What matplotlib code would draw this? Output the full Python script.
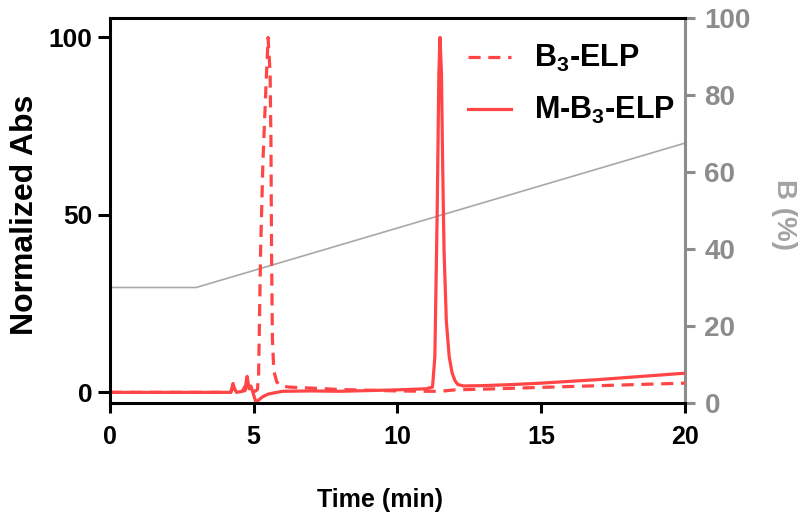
import matplotlib
matplotlib.use("Agg")
from matplotlib import pyplot as plt

plt.rcParams["font.family"] = ["Liberation Sans", "DejaVu Sans"]
plt.rcParams["font.weight"] = "bold"
plt.rcParams["mathtext.fontset"] = "custom"
plt.rcParams["mathtext.rm"] = "Liberation Sans:bold"
plt.rcParams["mathtext.it"] = "Liberation Sans:bold"
plt.rcParams["mathtext.bf"] = "Liberation Sans:bold"

RED = "#ff4545"
GRAY = "#8c8c8c"

# B3-ELP (dashed)
t_b3 = [0, 4.2, 4.3, 4.4, 4.7, 4.78, 4.9, 5.05, 5.13, 5.17, 5.2, 5.24, 5.32, 5.42, 5.5,
        5.57, 5.6, 5.62, 5.65, 5.7, 5.8, 5.9, 6.2, 7, 8, 9, 10, 11, 11.5, 12, 13, 15, 17.5, 20]
abs_b3 = [0, 0, 1.5, 0, 0.5, 2.5, 0.5, 0.3, 0.8, 5, 20, 40, 65, 85, 100,
          90, 70, 40, 15, 6, 3, 2, 1.5, 1.2, 0.8, 0.6, 0.4, 0.3, 0.3, 0.7, 0.9, 1.4, 2.0, 2.6]

# M-B3-ELP (solid)
t_mb3 = [0, 4.2, 4.28, 4.33, 4.4, 4.6, 4.72, 4.77, 4.84, 4.9, 5.08, 5.3, 5.5, 5.8, 6.0,
         7, 8, 9, 10, 11, 11.22, 11.3, 11.38, 11.44, 11.48, 11.53, 11.57, 11.62, 11.7,
         11.8, 11.9, 12.0, 12.1, 12.3, 13, 14, 15, 16, 17, 18, 19, 20]
abs_mb3 = [0, 0, 2.5, 1, 0, 0.3, 2, 4.5, 1, 1.8, -2.8, -1.3, -0.5, 0, 0.3,
           0.4, 0.3, 0.5, 0.7, 1.0, 1.5, 10, 50, 90, 100, 90, 65, 40, 20,
           10, 5.5, 3.3, 2.2, 1.8, 1.9, 2.2, 2.6, 3.1, 3.6, 4.2, 4.8, 5.4]

# gradient, % B
t_grad = [0, 3, 20]
b_grad = [30, 30, 67.5]

x_ticks = [0, 5, 10, 15, 20]
y_ticks = [0, 50, 100]
b_ticks = [0, 20, 40, 60, 80, 100]

fig = plt.figure(figsize=(8.05, 5.21), dpi=100)
ax = fig.add_axes([0.1366, 0.2265, 0.7143, 0.739])
ax2 = ax.twinx()

ax2.plot(t_grad, b_grad, color="#a8a8a8", lw=1.2)
ax2.set_ylim(0, 100)
ax2.set_yticks(b_ticks)

ax.plot(t_b3, abs_b3, color=RED, lw=2.3, ls=(0, (3.8, 2.4)), label="B$_3$-ELP")
ax.plot(t_mb3, abs_mb3, color=RED, lw=2.3, label="M-B$_3$-ELP")
ax.set_xlim(0, 20)
ax.set_ylim(-3, 105.5)
ax.set_xticks(x_ticks)
ax.set_yticks(y_ticks)

ax.set_zorder(ax2.get_zorder() + 1)
ax.patch.set_visible(False)

for s in ["left", "bottom", "top"]:
    ax.spines[s].set_linewidth(2.2)
    ax.spines[s].set_color("black")
ax.spines["right"].set_visible(False)
for s in ["left", "bottom", "top"]:
    ax2.spines[s].set_visible(False)
ax2.spines["right"].set_linewidth(2.2)
ax2.spines["right"].set_color(GRAY)

ax.tick_params(axis="y", length=8.5, width=2.2, pad=4, labelsize=19)
ax.tick_params(axis="x", length=7, width=2.2, pad=9, labelsize=18)
ax2.tick_params(axis="y", length=7, width=2.2, pad=7, labelsize=20,
                colors=GRAY)

ax.set_xlabel("Time (min)", fontsize=18, fontweight="bold", va="center")
ax.xaxis.set_label_coords(0.47, -0.252)
ax.set_ylabel("Normalized Abs", fontsize=23, fontweight="bold", va="center")
ax.yaxis.set_label_coords(-0.148, 0.49)
ax2.set_ylabel("B (%)", fontsize=20, fontweight="bold", color="#a3a3a3",
               rotation=270, va="center")
ax2.yaxis.set_label_coords(1.172, 0.49)

ax.legend(loc="upper left", bbox_to_anchor=(0.623, 0.934), frameon=False,
          fontsize=22, handlelength=1.4, handletextpad=0.75, labelspacing=0.68,
          borderpad=0, borderaxespad=0)

fig.savefig("out.png", dpi=100)
